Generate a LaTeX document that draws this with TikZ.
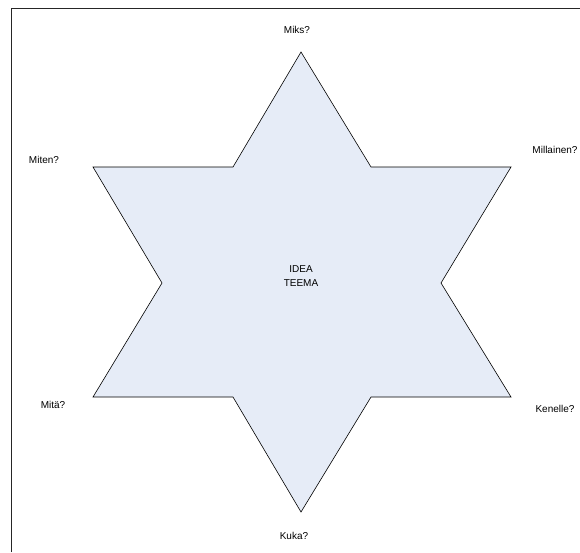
\documentclass[tikz,border=0pt]{standalone}
\usepackage{fontspec}
\setmainfont{Liberation Sans}
\definecolor{starfill}{RGB}{230,236,247}
\begin{document}
\begin{tikzpicture}[x=1pt,y=-1pt,
  lbl/.style={font=\fontsize{10}{14}\selectfont, inner sep=0pt, align=center},
  star/.style={draw=black, line width=0.6pt, fill=starfill, line join=miter}]
\useasboundingbox (0,0) rectangle (580,552);
\coordinate (fA) at (11.5,552);
\coordinate (fB) at (11.5,8);
\coordinate (fC) at (580,8);
\draw[line width=0.9pt, black!85] (fA) -- (fB) -- (fC);
\coordinate (p1) at (301,52);
\coordinate (p2) at (371,167);
\coordinate (p3) at (511,167);
\coordinate (p4) at (441,283);
\coordinate (p5) at (511,397);
\coordinate (p6) at (371,397);
\coordinate (p7) at (301,512);
\coordinate (p8) at (233,397);
\coordinate (p9) at (93,397);
\coordinate (p10) at (162,283);
\coordinate (p11) at (93,167);
\coordinate (p12) at (233,167);
\draw[star] (p1) -- (p2) -- (p3) -- (p4) -- (p5) -- (p6) -- (p7) -- (p8) -- (p9) -- (p10) -- (p11) -- (p12) -- cycle;
\node[lbl] (center) at (301,276) {IDEA\\TEEMA};
\node[lbl] (miks) at (297,30) {Miks?};
\node[lbl] (miten) at (44,160) {Miten?};
\node[lbl] (millainen) at (555,150) {Millainen?};
\node[lbl] (mita) at (53,405) {Mitä?};
\node[lbl] (kenelle) at (555,409) {Kenelle?};
\node[lbl] (kuka) at (294,536) {Kuka?};
\end{tikzpicture}
\end{document}
